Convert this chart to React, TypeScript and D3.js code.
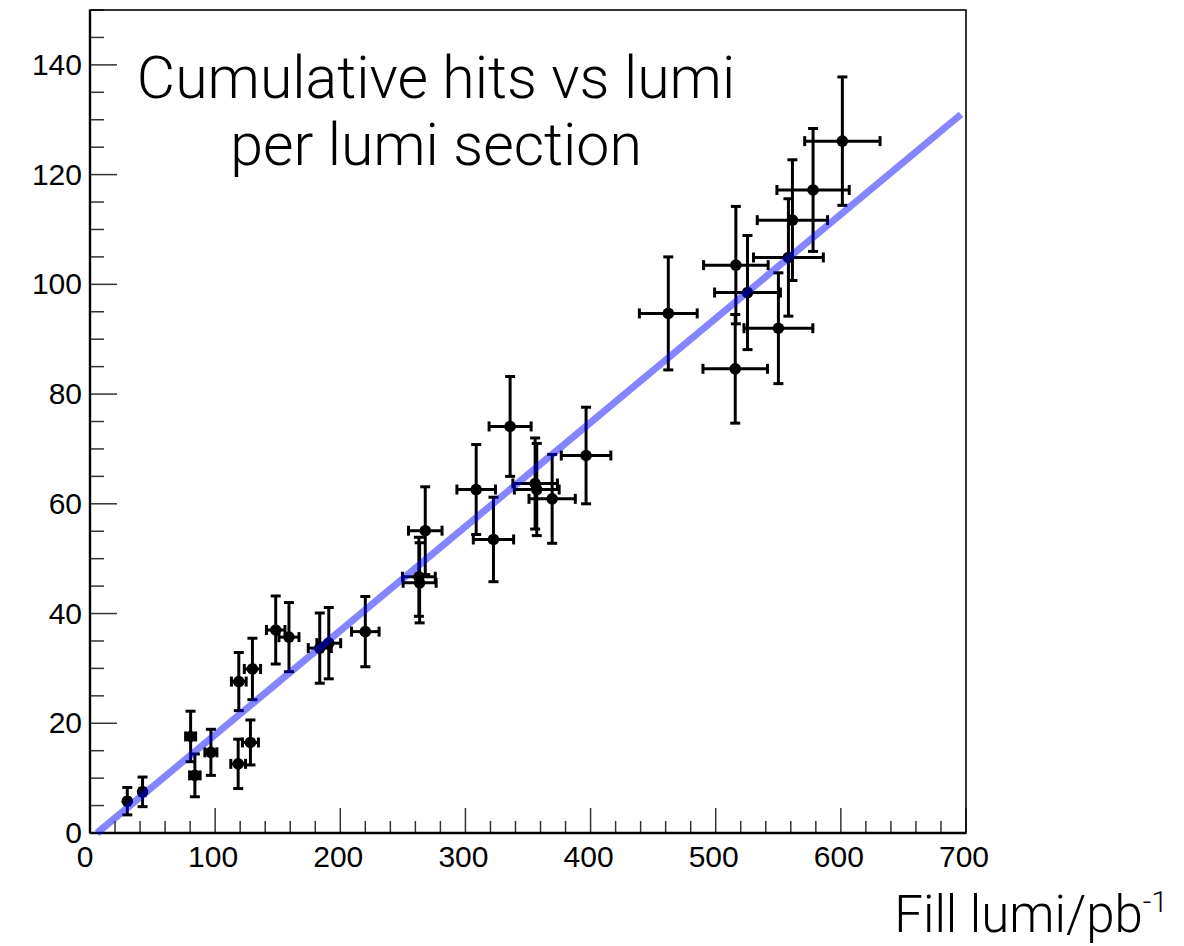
import { useMemo } from "react"
import * as d3 from "d3"

// fill luminosity (pb^-1) and cumulative hits per lumi section
const lumi = [
    29.8, 42, 80.4, 83.8, 96.6, 118.4, 128.2, 118.9, 129.8, 148.4, 159,
    183.6, 190.8, 220, 262.8, 263.4, 267.9, 308.6, 322.4, 335.7, 355.7, 357,
    369.3, 396.4, 462.1, 515.6, 516.1, 525.4, 550.1, 558.1, 561.3, 577.8, 601.2,
]
const hits = [
    5.8, 7.5, 17.6, 10.5, 14.7, 12.6, 16.5, 27.6, 29.9, 37.0, 35.7,
    33.7, 34.6, 36.7, 46.7, 45.6, 55.1, 62.6, 53.5, 74.1, 63.7, 62.6,
    60.9, 68.8, 94.7, 84.6, 103.5, 98.5, 92.0, 104.9, 111.7, 117.2, 126.1,
]
const lumiErr = [
    1.5, 2.1, 4.0, 4.2, 4.8, 5.9, 6.4, 5.9, 6.5, 7.4, 8.0,
    9.2, 9.5, 11.0, 13.1, 13.2, 13.4, 15.4, 16.1, 16.8, 17.8, 17.9,
    18.5, 19.8, 23.1, 25.8, 25.8, 26.3, 27.5, 27.9, 28.1, 28.9, 30.1,
]
const hitsErr = [
    2.5, 2.7, 4.6, 3.9, 4.2, 4.5, 4.1, 5.3, 5.6, 6.2, 6.3,
    6.4, 6.5, 6.4, 7.2, 7.3, 8.0, 8.2, 7.7, 9.1, 8.3, 8.4,
    8.1, 8.8, 10.3, 9.9, 10.7, 10.4, 10.1, 10.7, 11.0, 11.2, 11.7,
]

// linear fit
const fitSlope = 0.1897
const fitIntercept = -1.06
const fitRange = [5.6, 696]

const xTicks = [0, 100, 200, 300, 400, 500, 600, 700]
const yTicks = [0, 20, 40, 60, 80, 100, 120, 140]

export default function App() {
    const width = 1184
    const height = 946
    const left = 90
    const right = 966
    const top = 10
    const bottom = 833

    const x = useMemo(() => d3.scaleLinear().domain([0, 700]).range([left, right]), [])
    const y = useMemo(() => d3.scaleLinear().domain([0, 150]).range([bottom, top]), [])

    const points = lumi.map((l, i) => ({
        x: l,
        y: hits[i],
        ex: lumiErr[i],
        ey: hitsErr[i],
    }))

    const fitPts = fitRange.map((v) => [v, fitSlope * v + fitIntercept] as [number, number])
    const fitPath =
        d3
            .line<[number, number]>()
            .x((d) => x(d[0]))
            .y((d) => y(d[1]))(fitPts) || ""

    const xMinor = d3.range(0, 701, 20)
    const yMinor = d3.range(0, 151, 5)

    const font = "'Liberation Sans', Arial, Helvetica, sans-serif"
    const lightFont = "Roboto, 'Liberation Sans', sans-serif"
    const cap = 5

    return (
        <svg
            width={width}
            height={height}
            viewBox={`0 0 ${width} ${height}`}
            style={{ position: "absolute", left: 0, top: 0, background: "#fff" }}
        >
            <rect x={0} y={0} width={width} height={height} fill="#fff" />

            {/* ticks */}
            {xMinor.map((v) => {
                const major = v % 100 === 0
                return (
                    <line
                        key={"xt" + v}
                        x1={x(v)}
                        x2={x(v)}
                        y1={bottom}
                        y2={bottom - (major ? 25 : 12)}
                        stroke="#333"
                        strokeWidth={1.5}
                    />
                )
            })}
            {yMinor.map((v) => {
                const major = v % 20 === 0
                return (
                    <line
                        key={"yt" + v}
                        x1={left}
                        x2={left + (major ? 27 : 14)}
                        y1={y(v)}
                        y2={y(v)}
                        stroke="#333"
                        strokeWidth={1.5}
                    />
                )
            })}

            {/* frame */}
            <rect
                x={left}
                y={top}
                width={right - left}
                height={bottom - top}
                fill="none"
                stroke="#000"
                strokeWidth={1.6}
            />
            <line x1={left} x2={right} y1={bottom} y2={bottom} stroke="#000" strokeWidth={2.4} />
            <line x1={left} x2={left} y1={top} y2={bottom} stroke="#000" strokeWidth={2.4} />

            {/* tick labels */}
            {xTicks.map((v) => (
                <text
                    key={"xl" + v}
                    x={x(v) - (v === 0 ? 5 : 2)}
                    y={867}
                    textAnchor="middle"
                    fontFamily={font}
                    fontSize={30}
                    fill="#000"
                >
                    {v}
                </text>
            ))}
            {yTicks.map((v) => (
                <text
                    key={"yl" + v}
                    x={82}
                    y={y(v) + 10}
                    textAnchor="end"
                    fontFamily={font}
                    fontSize={30}
                    fill="#000"
                >
                    {v}
                </text>
            ))}

            {/* data with error bars */}
            <g stroke="#000" strokeWidth={3}>
                {points.map((d, i) => {
                    const cx = x(d.x)
                    const cy = y(d.y)
                    const x0 = x(d.x - d.ex)
                    const x1 = x(d.x + d.ex)
                    const y0 = y(d.y - d.ey)
                    const y1 = y(d.y + d.ey)
                    return (
                        <g key={i}>
                            <line x1={cx} x2={cx} y1={y0} y2={y1} />
                            <line x1={cx - cap} x2={cx + cap} y1={y0} y2={y0} />
                            <line x1={cx - cap} x2={cx + cap} y1={y1} y2={y1} />
                            <line x1={x0} x2={x1} y1={cy} y2={cy} />
                            <line x1={x0} x2={x0} y1={cy - cap} y2={cy + cap} />
                            <line x1={x1} x2={x1} y1={cy - cap} y2={cy + cap} />
                            <circle cx={cx} cy={cy} r={5.8} fill="#000" stroke="none" />
                        </g>
                    )
                })}
            </g>

            {/* fit line */}
            <path d={fitPath} fill="none" stroke="#0000ff" strokeOpacity={0.48} strokeWidth={7} />

            {/* title */}
            <text
                x={436}
                y={98}
                textAnchor="middle"
                fontFamily={lightFont}
                fontWeight={300}
                fontSize={59}
                fill="#000"
            >
                Cumulative hits vs lumi
            </text>
            <text
                x={436}
                y={165}
                textAnchor="middle"
                fontFamily={lightFont}
                fontWeight={300}
                fontSize={59}
                fill="#000"
            >
                per lumi section
            </text>

            {/* axis title */}
            <text
                x={1168}
                y={932}
                textAnchor="end"
                fontFamily={lightFont}
                fontWeight={300}
                fontSize={51}
                fill="#000"
            >
                Fill lumi/pb
                <tspan fontSize={30} dy={-20}>
                    -1
                </tspan>
            </text>
        </svg>
    )
}
